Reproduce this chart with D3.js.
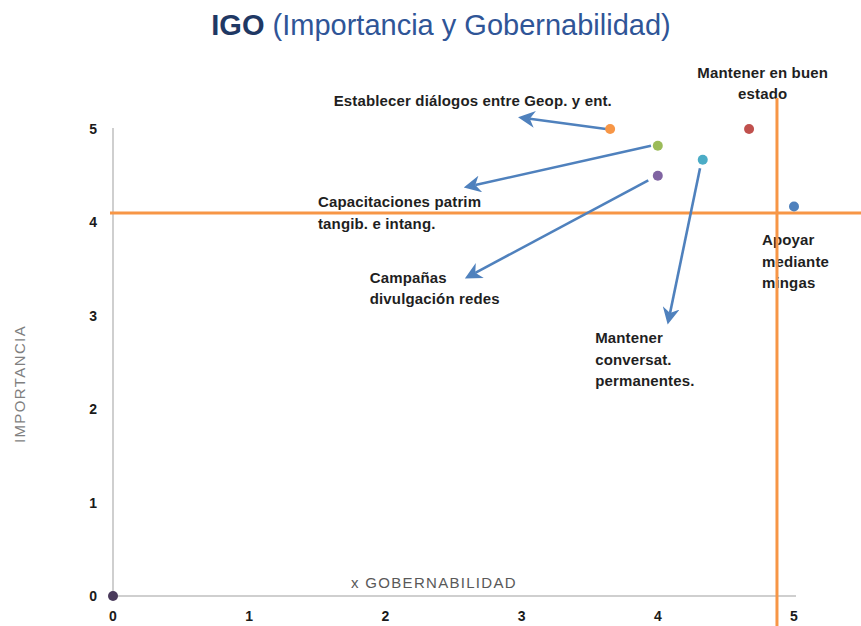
<!DOCTYPE html>
<html><head><meta charset="utf-8">
<script src="https://cdn.jsdelivr.net/npm/d3@7"></script>
<style>
body{margin:0;background:#fff;}
text{font-family:"Liberation Sans","Arial",sans-serif;}
</style></head><body>
<svg id="c" width="861" height="626"></svg>
<script>
// Data
const names = ["Establecer diálogos entre Geop. y ent.","Mantener en buen estado","Capacitaciones patrim tangib. e intang.","Mantener conversat. permanentes.","Campañas divulgación redes","Apoyar mediante mingas","Origen"];
const gobernabilidad = [3.65, 4.67, 4.0, 4.33, 4.0, 5.0, 0];
const importancia   = [5.0, 5.0, 4.82, 4.67, 4.5, 4.17, 0];
const pointColors = ["#f79646","#c0504d","#9bbb59","#4bacc6","#8064a2","#4f81bd","#4a3b5c"];
const xTicks = [0,1,2,3,4,5];
const yTicks = [0,1,2,3,4,5];
const thresholdX = 4.875;
const thresholdY = 4.1;
// annotation arrows (data units): from -> to
const arrowFrom = [[3.62,5.0],[3.95,4.82],[3.93,4.45],[4.31,4.58]];
const arrowTo   = [[3.06,5.11],[2.66,4.40],[2.66,3.46],[4.09,3.03]];
// label lines and anchor positions (data units)
const labelLines = [
  ["Establecer diálogos entre Geop. y ent."],
  ["Mantener en buen","estado"],
  ["Capacitaciones patrim","tangib. e intang."],
  ["Campañas","divulgación redes"],
  ["Apoyar","mediante","mingas"],
  ["Mantener","conversat.","permanentes."]
];
const labelPos = [[1.62,5.25],[4.77,5.55],[1.505,4.16],[1.885,3.355],[4.765,3.76],[3.54,2.71]];
const labelAlign = ["start","middle","start","start","start","start"];

const svg = d3.select("#c");
const x = d3.scaleLinear().domain([0,5]).range([113,794]);
const y = d3.scaleLinear().domain([0,5]).range([596,129]);

// title
const t = svg.append("text").attr("x",441).attr("y",35).attr("text-anchor","middle")
  .style("font-size","29px");
t.append("tspan").attr("fill","#1f3864").attr("font-weight","bold").text("IGO");
t.append("tspan").attr("fill","#2f5597").text(" (Importancia y Gobernabilidad)");

// axes lines
svg.append("line").attr("x1",x(0)).attr("x2",x(5)+2).attr("y1",y(0)).attr("y2",y(0)).attr("stroke","#bfbfbf").attr("stroke-width",1.5);
svg.append("line").attr("x1",x(0)).attr("x2",x(0)).attr("y1",y(0)).attr("y2",y(5)-1).attr("stroke","#bfbfbf").attr("stroke-width",1.5);

// tick labels
svg.selectAll(".xt").data(xTicks).enter().append("text")
  .attr("x",d=>x(d)).attr("y",621).attr("text-anchor","middle")
  .attr("font-weight","bold").attr("font-size","14px").attr("fill","#1a1a1a").text(d=>d);
svg.selectAll(".yt").data(yTicks).enter().append("text")
  .attr("x",97).attr("y",d=>y(d)+5).attr("text-anchor","end")
  .attr("font-weight","bold").attr("font-size","14px").attr("fill","#1a1a1a").text(d=>d);

// axis titles
svg.append("text").attr("x",434).attr("y",588).attr("text-anchor","middle")
  .attr("font-size","15px").attr("letter-spacing","1.3px").attr("fill","#595959").text("x GOBERNABILIDAD");
svg.append("text").attr("transform","translate(25,384) rotate(-90)").attr("text-anchor","middle")
  .attr("font-size","15px").attr("letter-spacing","1.4px").attr("fill","#7f7f7f").text("IMPORTANCIA");

// labels
labelLines.forEach((lines,i)=>{
  const tx = svg.append("text").attr("x",x(labelPos[i][0])).attr("y",y(labelPos[i][1]))
    .attr("text-anchor",labelAlign[i]).attr("font-weight","bold").attr("font-size","15px")
    .attr("letter-spacing","0.15px").attr("fill","#1f1f1f");
  lines.forEach((l,j)=>tx.append("tspan").attr("x",x(labelPos[i][0])).attr("dy",j?21.8:0).text(l));
});

// threshold lines
svg.append("line").attr("x1",110).attr("x2",861).attr("y1",y(thresholdY)).attr("y2",y(thresholdY))
  .attr("stroke","#f79646").attr("stroke-width",3);
svg.append("line").attr("x1",x(thresholdX)).attr("x2",x(thresholdX)).attr("y1",98).attr("y2",626)
  .attr("stroke","#f79646").attr("stroke-width",3);

// arrows
const defs = svg.append("defs");
defs.append("marker").attr("id","ah").attr("viewBox","0 0 10 10").attr("refX",3).attr("refY",5)
  .attr("markerWidth",6.5).attr("markerHeight",6.5).attr("orient","auto")
  .append("path").attr("d","M0,0 L10,5 L0,10 L3,5 Z").attr("fill","#4f81bd");
arrowFrom.forEach((f,i)=>{
  svg.append("line").attr("x1",x(f[0])).attr("y1",y(f[1])).attr("x2",x(arrowTo[i][0])).attr("y2",y(arrowTo[i][1]))
    .attr("stroke","#4f81bd").attr("stroke-width",2.6).attr("marker-end","url(#ah)");
});

// points
svg.selectAll(".pt").data(names).enter().append("circle")
  .attr("cx",(d,i)=>x(gobernabilidad[i])).attr("cy",(d,i)=>y(importancia[i])).attr("r",5)
  .attr("fill",(d,i)=>pointColors[i]);
</script></body></html>
